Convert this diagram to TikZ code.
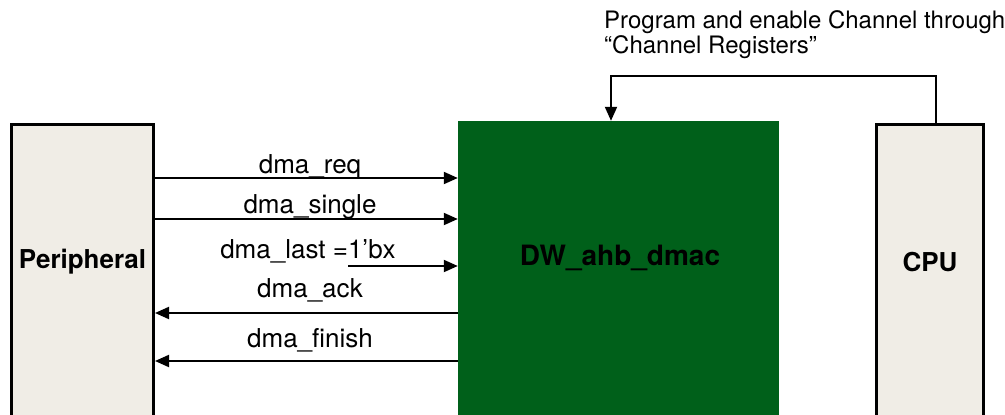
\documentclass[tikz,border=0pt]{standalone}
\usepackage{fontspec}
\setmainfont{TeX Gyre Heros}
\usetikzlibrary{arrows.meta}
\definecolor{dmacgreen}{RGB}{0,96,26}
\definecolor{blockfill}{RGB}{240,237,230}

\begin{document}
\begin{tikzpicture}[x=1pt, y=-1pt,
    block/.style={draw, line width=3pt, fill=blockfill, inner sep=0pt,
                  minimum height=320pt},
    core/.style={fill=dmacgreen, inner sep=0pt,
                 minimum width=321pt, minimum height=320pt},
    blockname/.style={font=\fontsize{26}{30}\selectfont\bfseries},
    sig/.style={font=\fontsize{26}{30}\selectfont, anchor=base},
    arr/.style={-{Triangle[length=14pt,width=12pt]}, line width=2pt}
  ]
    \useasboundingbox (0,0) rectangle (1005,415);

    \node[block, minimum width=142pt] (per) at (82.5,284.5) {};
    \node[core] (core) at (618.5,281) {};
    \node[block, minimum width=107pt] (cpu) at (930,284.5) {};

    \node[blockname] (pername) at (82.5,262) {Peripheral};
    \node[blockname, font=\fontsize{28}{30}\selectfont\bfseries]
         (corename) at (620,258) {DW\_ahb\_dmac};
    \node[blockname] (cpuname) at (930,262) {CPU};

    % signals between peripheral and controller
    \draw[arr] (per.east |- 0,178) -- (core.west |- 0,178);
    \draw[arr] (per.east |- 0,219) -- (core.west |- 0,219);
    \coordinate (lastsrc) at (348,266);
    \draw[arr] (lastsrc) -- (core.west |- lastsrc);
    \draw[arr] (core.west |- 0,313) -- (per.east |- 0,313);
    \draw[arr] (core.west |- 0,361) -- (per.east |- 0,361);

    \node[sig] (lreq) at (310,173) {dma\_req};
    \node[sig] (lsingle) at (310,213) {dma\_single};
    \node[sig] (llast) at (308,258) {dma\_last =1’bx};
    \node[sig] (lack) at (310,297) {dma\_ack};
    \node[sig] (lfinish) at (310,347) {dma\_finish};

    % programming path from the CPU
    \coordinate (loop) at (611,76);
    \draw[arr] ([xshift=6pt]cpu.north) |- (loop) -- (loop |- core.north);
    \node[anchor=base west, align=left, inner sep=0pt,
          font=\fontsize{24}{23}\selectfont] (prog) at (604,53)
          {Program and enable Channel through\\“Channel Registers”};
\end{tikzpicture}
\end{document}
